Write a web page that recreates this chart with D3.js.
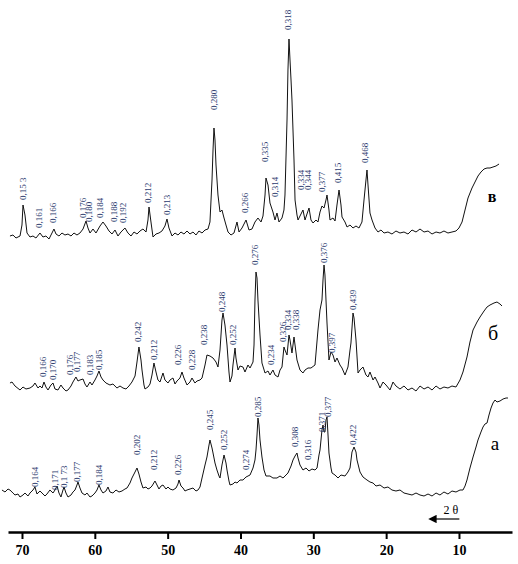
<!DOCTYPE html>
<html>
<head>
<meta charset="utf-8">
<script src="https://cdn.jsdelivr.net/npm/d3@7"></script>
<style>
  body { margin: 0; background: #fff; }
  svg { display: block; }
</style>
</head>
<body>
<svg id="chart" width="518" height="564"></svg>
<script>
// 2θ tick labels of the bottom axis
var tickValues = [70, 60, 50, 40, 30, 20, 10];

// curve а (bottom): [2θ, intensity]
var traceA = [[72.75,10],[72.33,8],[71.92,11],[71.65,10],[71.24,7],[70.96,5],[70.55,6],[70.27,3],[69.86,5],[69.59,7],[69.18,4],[68.90,7],[68.49,10],[68.22,13],[67.94,6],[67.53,9],[67.25,7],[66.84,4],[66.57,6],[66.16,10],[65.74,7],[65.47,10],[65.19,14],[64.92,7],[64.65,3],[64.37,10],[64.23,13],[63.96,7],[63.68,3],[63.27,5],[63.00,8],[62.72,10],[62.45,15],[62.31,18],[62.04,12],[61.76,7],[61.35,5],[61.08,7],[60.66,3],[60.39,4],[59.98,7],[59.70,10],[59.43,15],[59.15,10],[58.88,7],[58.47,9],[58.19,13],[57.92,8],[57.51,7],[57.09,10],[56.68,8],[56.27,9],[55.86,11],[55.58,12],[55.17,17],[54.90,22],[54.48,28],[54.21,32],[53.94,26],[53.66,18],[53.39,12],[52.97,13],[52.70,11],[52.42,12],[52.15,14],[51.74,19],[51.46,15],[51.19,11],[50.91,14],[50.64,15],[50.23,11],[49.95,13],[49.68,11],[49.27,10],[48.85,12],[48.58,16],[48.44,20],[48.17,14],[47.89,12],[47.62,9],[47.34,10],[46.93,11],[46.52,12],[46.11,9],[45.83,10],[45.56,13],[45.28,22],[44.87,35],[44.60,43],[44.32,55],[44.19,60],[43.91,52],[43.77,47],[43.50,37],[43.23,30],[42.95,24],[42.81,22],[42.54,35],[42.26,45],[41.99,37],[41.85,30],[41.58,19],[41.44,15],[41.03,16],[40.75,18],[40.48,17],[40.07,20],[39.66,20],[39.24,23],[38.69,25],[38.28,32],[38.01,40],[37.87,50],[37.73,65],[37.60,82],[37.46,75],[37.32,60],[37.05,43],[36.77,30],[36.50,24],[35.95,24],[35.54,22],[34.99,22],[34.57,24],[34.16,22],[33.75,25],[33.48,27],[33.06,34],[32.79,40],[32.51,44],[32.24,47],[32.10,42],[31.83,35],[31.42,30],[31.00,32],[30.59,29],[30.18,31],[29.77,30],[29.49,32],[29.22,45],[29.08,50],[28.81,70],[28.67,75],[28.53,68],[28.40,68],[28.26,80],[28.12,83],[27.98,65],[27.85,47],[27.57,32],[27.43,27],[27.02,25],[26.61,22],[26.20,25],[25.65,24],[25.24,28],[24.96,32],[24.69,48],[24.41,53],[24.14,48],[24.00,40],[23.59,28],[23.18,23],[22.63,20],[22.22,18],[21.80,17],[21.39,14],[20.84,15],[20.29,12],[19.75,13],[19.20,10],[18.65,9],[18.10,10],[17.55,7],[17.00,6],[16.45,5],[15.90,7],[15.35,5],[14.80,4],[14.25,6],[13.70,4],[13.15,7],[12.61,5],[12.06,8],[11.51,6],[10.96,9],[10.41,8],[9.86,10],[9.45,10],[9.17,14],[8.90,20],[8.49,32],[8.07,43],[7.66,53],[7.39,60],[6.98,68],[6.70,73],[6.43,76],[6.15,77],[5.88,85],[5.60,92],[5.33,97],[5.05,100],[4.78,98],[4.37,99],[3.95,101],[3.54,102],[3.27,102]];

// curve б (middle)
var traceB = [[71.65,12],[71.37,13],[70.96,9],[70.27,5],[69.86,8],[69.45,6],[68.90,7],[68.49,9],[68.22,12],[67.80,7],[67.53,9],[67.25,7],[66.98,13],[66.71,8],[66.43,5],[66.02,10],[65.74,12],[65.47,6],[65.06,5],[64.65,10],[64.37,7],[63.96,4],[63.68,5],[63.27,9],[63.00,13],[62.59,18],[62.31,14],[62.04,15],[61.62,16],[61.35,11],[61.08,8],[60.66,13],[60.39,10],[59.98,15],[59.70,19],[59.43,24],[59.15,18],[58.88,15],[58.47,12],[57.92,10],[57.51,11],[56.96,7],[56.54,9],[56.13,7],[55.72,6],[55.31,9],[54.90,13],[54.48,19],[54.21,33],[53.94,48],[53.66,35],[53.52,25],[53.25,10],[53.11,6],[52.70,8],[52.42,11],[52.15,20],[51.88,32],[51.60,23],[51.33,15],[51.05,13],[50.64,22],[50.37,15],[49.95,12],[49.68,15],[49.27,17],[48.99,11],[48.72,14],[48.31,17],[48.03,23],[47.76,17],[47.34,10],[46.93,13],[46.66,17],[46.25,12],[45.97,14],[45.56,15],[45.28,17],[44.87,30],[44.60,40],[44.19,39],[43.77,37],[43.36,33],[43.09,28],[42.81,45],[42.54,75],[42.40,82],[42.13,70],[41.85,50],[41.58,23],[41.44,13],[41.17,19],[41.03,30],[40.75,47],[40.62,37],[40.34,25],[40.07,29],[39.66,28],[39.38,23],[38.97,30],[38.69,27],[38.28,33],[38.14,50],[38.01,95],[37.87,123],[37.73,117],[37.60,95],[37.32,60],[37.05,32],[36.63,22],[36.22,24],[35.95,20],[35.54,25],[35.26,20],[34.85,18],[34.57,25],[34.30,28],[34.03,48],[33.89,45],[33.61,40],[33.34,60],[33.20,55],[32.93,42],[32.65,58],[32.51,50],[32.24,35],[31.83,25],[31.42,22],[31.14,25],[30.73,27],[30.32,27],[29.77,30],[29.36,65],[29.08,85],[28.81,95],[28.67,115],[28.53,130],[28.40,120],[28.26,95],[28.12,72],[27.85,35],[27.57,43],[27.30,40],[27.02,33],[26.75,37],[26.34,30],[26.06,27],[25.65,20],[25.24,28],[24.96,45],[24.83,52],[24.55,82],[24.41,77],[24.14,55],[23.86,22],[23.59,25],[23.18,28],[22.77,20],[22.49,18],[22.22,23],[21.80,15],[21.53,18],[21.12,12],[20.84,7],[20.43,13],[20.02,10],[19.47,5],[19.06,13],[18.65,9],[18.10,6],[17.55,9],[17.00,5],[16.45,7],[15.90,4],[15.35,9],[14.80,6],[14.25,8],[13.70,5],[13.15,9],[12.61,6],[12.06,8],[11.51,7],[10.96,9],[10.41,8],[9.86,15],[9.45,23],[8.90,38],[8.49,53],[8.07,65],[7.52,73],[7.11,78],[6.56,84],[6.15,88],[5.74,90],[5.19,92],[4.78,93],[4.37,91],[4.09,89]];

// curve в (top)
var traceV = [[71.65,4],[71.24,5],[70.82,2],[70.27,4],[70.00,15],[69.86,35],[69.59,25],[69.31,7],[68.90,3],[68.49,4],[68.08,2],[67.53,7],[67.12,3],[66.71,4],[66.29,1],[65.88,7],[65.61,11],[65.33,6],[64.92,4],[64.51,7],[64.10,5],[63.68,6],[63.27,4],[62.86,7],[62.45,5],[62.04,7],[61.62,11],[61.21,19],[60.94,12],[60.66,7],[60.25,11],[59.84,7],[59.29,14],[58.88,18],[58.47,14],[58.05,9],[57.64,6],[57.23,10],[56.82,4],[56.41,8],[55.86,12],[55.45,7],[55.03,4],[54.62,8],[54.21,6],[53.80,9],[53.39,11],[52.97,8],[52.70,20],[52.56,33],[52.29,18],[52.01,3],[51.60,6],[51.19,7],[50.78,9],[50.37,14],[50.09,21],[49.82,12],[49.40,4],[48.99,7],[48.58,5],[48.17,8],[47.76,6],[47.34,9],[46.93,6],[46.52,8],[46.11,5],[45.70,9],[45.28,7],[44.87,10],[44.46,11],[44.19,18],[43.91,60],[43.77,90],[43.64,112],[43.50,100],[43.36,75],[43.09,45],[42.81,28],[42.54,30],[42.26,22],[41.99,15],[41.71,8],[41.30,5],[40.89,7],[40.48,18],[40.20,8],[39.79,12],[39.24,20],[38.83,10],[38.42,11],[38.01,18],[37.60,22],[37.18,18],[36.91,24],[36.63,45],[36.50,62],[36.22,55],[35.95,37],[35.54,28],[35.26,20],[34.99,27],[34.71,18],[34.30,22],[34.03,30],[33.89,45],[33.61,120],[33.48,170],[33.34,201],[33.20,180],[33.06,160],[32.93,140],[32.65,80],[32.51,40],[32.24,25],[32.10,20],[31.83,24],[31.42,30],[31.14,20],[30.87,26],[30.59,32],[30.32,20],[30.04,17],[29.63,20],[29.36,18],[29.08,28],[28.81,34],[28.53,32],[28.26,40],[28.12,45],[27.85,30],[27.71,20],[27.30,22],[27.02,19],[26.75,35],[26.47,50],[26.20,35],[26.06,23],[25.65,18],[25.37,13],[24.96,15],[24.55,12],[24.14,14],[23.73,12],[23.32,18],[23.04,40],[22.77,60],[22.63,70],[22.49,55],[22.22,27],[21.94,20],[21.53,12],[21.12,8],[20.71,10],[20.29,7],[19.75,8],[19.20,6],[18.65,9],[18.10,7],[17.55,8],[17.00,6],[16.45,10],[15.90,8],[15.35,11],[14.80,8],[14.25,9],[13.70,6],[13.15,8],[12.61,7],[12.06,9],[11.51,7],[10.96,8],[10.41,9],[10.00,12],[9.58,18],[9.17,30],[8.76,42],[8.21,52],[7.80,58],[7.39,64],[6.98,68],[6.56,71],[6.15,72],[5.74,72],[5.33,73],[4.92,74],[4.50,76]];

// d-spacing labels: [text, 2θ, intensity at label foot]
var peaksA = [["0,164",68.22,13],["0,171",65.47,10],["0,1 73",64.23,12],["0,177",62.45,18],["0,184",59.43,15],["0,202",54.21,45],["0,212",51.88,30],["0,226",48.58,25],["0,245",44.19,70],["0,252",42.26,50],["0,274",39.24,30],["0,285",37.60,83],["0,308",32.51,53],["0,316",30.73,40],["0,371",28.81,68],["0,377",27.98,83],["0,422",24.55,55]];
var peaksB = [["0,166",67.12,18],["0,170",65.74,15],["0,176",63.41,20],["0,177",62.45,23],["0,183",60.66,20],["0,185",59.43,25],["0,242",54.07,53],["0,212",51.88,35],["0,226",48.58,30],["0,228",46.66,25],["0,238",45.01,50],["0,248",42.54,83],["0,252",41.03,50],["0,276",38.01,130],["0,234",35.81,30],["0,326",34.16,53],["0,334",33.48,65],["0,338",32.38,65],["0,376",28.53,132],["0,397",27.43,42],["0,439",24.55,85]];
var peaksV = [["0,15 3",69.86,40],["0,161",67.67,12],["0,166",65.74,17],["0,176",61.62,22],["0,180",60.80,18],["0,184",59.29,22],["0,188",57.37,18],["0,192",56.13,17],["0,212",52.70,37],["0,213",50.09,25],["0,280",43.64,130],["0,266",39.38,27],["0,335",36.63,78],["0,314",35.26,43],["0,318",33.48,210],["0,334",31.69,50],["0,344",30.73,50],["0,377",28.81,48],["0,415",26.61,57],["0,468",22.90,77]];

var svg = d3.select("#chart");

var x = d3.scaleLinear().domain([71.92, 2.72]).range([8, 512]);
var y = d3.scaleLinear().domain([0, 520]).range([530, 10]);

var curves = [
    {name: "а", data: traceA, peaks: peaksA, offset: 30, tag: [5.05, 57], size: 19, weight: "normal"},
    {name: "б", data: traceB, peaks: peaksB, offset: 135, tag: [5.33, 62], size: 20, weight: "normal"},
    {name: "в", data: traceV, peaks: peaksV, offset: 290, tag: [5.46, 44], size: 16, weight: "bold"}
];

curves.forEach(function (c) {
    var line = d3.line()
        .x(d => x(d[0]))
        .y(d => y(d[1] + c.offset));

    svg.append("path")
        .datum(c.data)
        .attr("fill", "none")
        .attr("stroke", "#111")
        .attr("stroke-width", 1)
        .attr("d", line);

    svg.append("g").selectAll("text")
        .data(c.peaks)
        .enter().append("text")
        .attr("transform", d => "translate(" + x(d[1]) + "," + y(d[2] + c.offset) + ") rotate(-90)")
        .attr("dy", "0.35em")
        .style("font-family", "'Liberation Serif', 'DejaVu Serif', serif")
        .style("font-size", "9px")
        .style("fill", "#2b3a6e")
        .text(d => d[0]);

    svg.append("text")
        .attr("x", x(c.tag[0]))
        .attr("y", y(c.tag[1] + c.offset))
        .attr("text-anchor", "middle")
        .attr("dy", "0.35em")
        .style("font-family", "'Liberation Serif', serif")
        .style("font-size", c.size + "px")
        .style("font-weight", c.weight)
        .text(c.name);
});

// bottom 2θ axis
var axis = svg.append("g")
    .attr("transform", "translate(0,532)")
    .call(d3.axisBottom(x).tickValues(tickValues).tickSize(7).tickSizeOuter(0).tickPadding(6));
axis.select(".domain").attr("stroke", "#000").attr("stroke-width", 2.5);
axis.selectAll(".tick line").attr("stroke", "#000").attr("stroke-width", 2);
axis.selectAll(".tick text")
    .style("font-family", "'Liberation Serif', serif")
    .style("font-size", "14px")
    .style("font-weight", "bold")
    .attr("fill", "#000");

// direction arrow with 2θ
svg.append("defs").append("marker")
    .attr("id", "head")
    .attr("viewBox", "0 0 10 10")
    .attr("refX", 2).attr("refY", 5)
    .attr("markerWidth", 7).attr("markerHeight", 7)
    .attr("orient", "auto-start-reverse")
    .append("path").attr("d", "M0,0L10,5L0,10z").attr("fill", "#000");

svg.append("line")
    .attr("x1", x(9.95)).attr("x2", x(13.3))
    .attr("y1", 519).attr("y2", 519)
    .attr("stroke", "#000").attr("stroke-width", 1.2)
    .attr("marker-end", "url(#head)");

svg.append("text")
    .attr("x", x(11.1))
    .attr("y", 514)
    .attr("text-anchor", "middle")
    .style("font-family", "'Liberation Serif', serif")
    .style("font-size", "12px")
    .text("2 θ");
</script>
</body>
</html>
